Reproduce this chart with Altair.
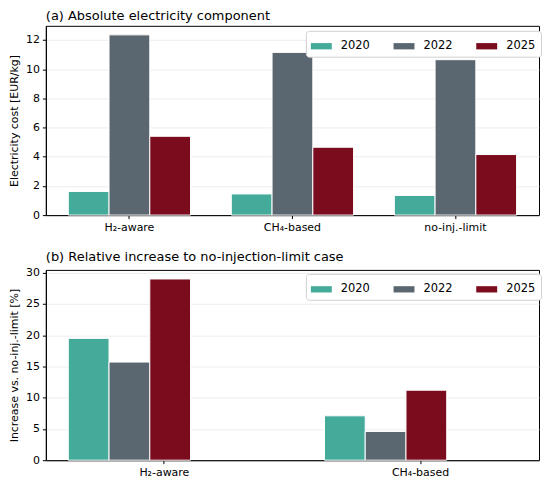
import altair as alt
import pandas as pd

years = ["2020", "2022", "2025"]
colors = ["#44aa99", "#5b6770", "#7b0c1d"]

cases_a = ["H₂-aware", "CH₄-based", "no-inj.-limit"]
abs_2020 = [1.62, 1.45, 1.35]
abs_2022 = [12.35, 11.15, 10.65]
abs_2025 = [5.40, 4.65, 4.15]

cases_b = ["H₂-aware", "CH₄-based"]
rel_2020 = [19.5, 7.1]
rel_2022 = [15.7, 4.6]
rel_2025 = [29.0, 11.2]


def long(cases, series):
    rows = []
    for yr, vals in zip(years, series):
        for c, v in zip(cases, vals):
            rows.append({"case": c, "year": yr, "value": v})
    return pd.DataFrame(rows)


df_a = long(cases_a, [abs_2020, abs_2022, abs_2025])
df_b = long(cases_b, [rel_2020, rel_2022, rel_2025])

FONT = "DejaVu Sans"
W = 495


def panel(df, cases, title, ytitle, ymax, ticks, pad_outer, h, ly):
    legend = alt.Legend(
        title=None,
        orient="none",
        legendX=W - 234,
        legendY=ly,
        direction="horizontal",
        columns=3,
        symbolType="M-1,-0.3L1,-0.3L1,0.3L-1,0.3Z",
        symbolSize=441,
        symbolStrokeWidth=0,
        labelFontSize=11.5,
        labelFont=FONT,
        labelColor="black",
        columnPadding=23,
        strokeColor="#d0d0d0",
        fillColor="white",
        padding=5,
        cornerRadius=3,
        labelOffset=9,
    )
    return (
        alt.Chart(df, title=alt.Title(title, anchor="start", frame="group",
                                      fontSize=13, font=FONT, fontWeight="normal",
                                      offset=3, color="black"))
        .mark_bar(stroke="white", strokeWidth=1)
        .encode(
            x=alt.X("case:N", sort=cases, title=None,
                    scale=alt.Scale(paddingInner=0.25, paddingOuter=pad_outer),
                    axis=alt.Axis(labelAngle=0, labelFontSize=11, labelFont=FONT,
                                  tickSize=3.5, tickColor="black", domainColor="black",
                                  labelColor="black", labelPadding=3)),
            xOffset=alt.XOffset("year:N", sort=years,
                                scale=alt.Scale(paddingInner=0, paddingOuter=0)),
            y=alt.Y("value:Q", title=ytitle,
                    scale=alt.Scale(domain=[0, ymax], nice=False),
                    axis=alt.Axis(values=ticks, labelFontSize=11, labelFont=FONT,
                                  titleFont=FONT, titleFontSize=11,
                                  titleFontWeight="normal", titleColor="black",
                                  tickSize=3.5, tickColor="black", domainColor="black",
                                  labelColor="black", grid=True, gridColor="#e9e9e9",
                                  gridWidth=0.8, titlePadding=6, labelPadding=3)),
            color=alt.Color("year:N", sort=years,
                            scale=alt.Scale(domain=years, range=colors),
                            legend=legend),
        )
        .properties(width=W, height=h)
    )


pa = panel(df_a, cases_a, "(a) Absolute electricity component",
           "Electricity cost [EUR/kg]", 12.97, [0, 2, 4, 6, 8, 10, 12], 0.1375, 190, 5)
pb = panel(df_b, cases_b, "(b) Relative increase to no-injection-limit case",
           "Increase vs. no-inj.-limit [%]", 30.45, [0, 5, 10, 15, 20, 25, 30], 0.0875, 191, 4)

chart = (
    alt.vconcat(pa, pb, spacing=17)
    .resolve_legend(color="independent")
    .resolve_scale(x="independent", y="independent")
    .configure(padding=0)
    .configure_view(stroke="black", strokeWidth=1)
)

chart.save("out.html", embed_options={"renderer": "svg", "actions": False})
